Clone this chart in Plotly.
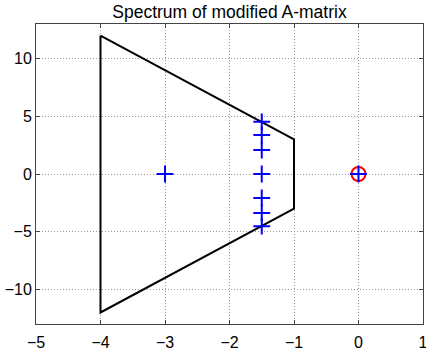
import plotly.graph_objects as go

# Region boundary polygon
region_x = [-4, -1, -1, -4, -4]
region_y = [12, 3, -3, -12, 12]

# Eigenvalues (real, imag)
eig_re = [-1.5, -1.5, -1.5, -1.5, -1.5, -1.5, -1.5, -3.0, 0.0]
eig_im = [4.52, 3.37, 2.07, 0.0, -2.07, -3.37, -4.52, 0.0, 0.0]

# Highlighted eigenvalue
mark_re = [0.0]
mark_im = [0.0]

x_ticks = [-5, -4, -3, -2, -1, 0, 1]
y_ticks = [-10, -5, 0, 5, 10]

fig = go.Figure()
fig.add_trace(go.Scatter(x=region_x, y=region_y, mode="lines",
                         line=dict(color="black", width=2), hoverinfo="skip"))
fig.add_trace(go.Scatter(x=mark_re, y=mark_im, mode="markers",
                         marker=dict(symbol="circle-open", size=14,
                                     line=dict(color="red", width=2), color="red")))
fig.add_trace(go.Scatter(x=eig_re, y=eig_im, mode="markers",
                         marker=dict(symbol="cross-thin", size=12,
                                     line=dict(color="blue", width=2), color="blue")))

axis_common = dict(showgrid=True, gridcolor="#999999", griddash="1px,2px", gridwidth=1,
                   zeroline=False, showline=True, linecolor="#444444", linewidth=1,
                   mirror="ticks", ticks="inside", ticklen=4, tickcolor="#444444",
                   automargin=False, ticklabeloverflow="allow",
                   tickfont=dict(family="Liberation Sans, Arial", size=16, color="black"))

fig.update_layout(
    width=426, height=356,
    margin=dict(l=36, r=3, t=24, b=32),
    paper_bgcolor="white", plot_bgcolor="white",
    showlegend=False,
    title=dict(text="Spectrum of modified A-matrix", x=0.5, xref="paper", xanchor="center",
               y=1 - 12/356, yanchor="middle",
               font=dict(family="Liberation Sans, Arial", size=17.5, color="black")),
    xaxis=dict(range=[-5, 1], tickvals=x_ticks, ticklabelstandoff=4, **axis_common),
    yaxis=dict(range=[-13.0, 13.0], tickvals=y_ticks, **axis_common),
)

fig.write_html("out.html", config={"displayModeBar": False},
               post_script="document.body.style.margin='0px';document.body.style.overflow='hidden';")
